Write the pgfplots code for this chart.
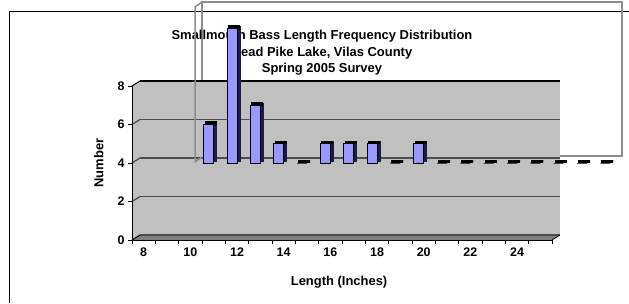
\documentclass[border=0pt]{standalone}
\usepackage{fontspec}
\setmainfont{Liberation Sans}
\usepackage{pgfplots}
\pgfplotsset{compat=1.18}
\usepackage{pgfplotstable}
\definecolor{wallgray}{HTML}{C0C0C0}
\definecolor{floorgray}{HTML}{808080}
\definecolor{gridgray}{HTML}{4D4D4D}
\definecolor{framegray}{HTML}{8C8C8C}
\definecolor{barfill}{HTML}{9999FF}
\definecolor{barside}{HTML}{1A1A4D}

\pgfplotstableread{
x y
11 2
12 7
13 3
14 1
15 0
16 1
17 1
18 1
19 0
20 1
21 0
22 0
23 0
24 0
25 0
26 0
27 0
28 0
}\bars

\newcommand{\tlf}{\fontsize{12.5}{14}\selectfont\bfseries}

\begin{document}
\begin{tikzpicture}[x=1bp,y=1bp]
\useasboundingbox (0,0) rectangle (629,303);
% chart area border
\draw[black, line width=1bp] (9,0) -- (9,291) -- (629,291);
% floating frame (back)
\draw[framegray, line width=1.5bp] (202,222) -- (202,301) -- (622,301) -- (622,147) -- (560,147);
% side wall
\fill[wallgray] (132,217) -- (140,222) -- (140,68) -- (132,63) -- cycle;
% back wall
\begin{axis}[at={(140bp,68bp)}, anchor=south west, scale only axis,
  width=420bp, height=154bp, xmin=7.5, xmax=25.5, ymin=0, ymax=8,
  axis background/.style={fill=wallgray},
  axis line style={draw=none}, xtick=\empty, ytick={0,2,4,6},
  yticklabels={}, major tick length=0pt,
  ymajorgrids, grid style={gridgray, line width=1.3bp}]
\end{axis}
\draw[black, line width=1bp] (140,222) -- (560,222);
% floor
\fill[floorgray] (132,63) -- (140,68) -- (560,68) -- (552,63) -- cycle;
\draw[gridgray, line width=1.3bp] (140,68) -- (560,68);
\draw[black, line width=0.8bp] (552,63) -- (560,68);
% side diagonals
\foreach \v in {2,4,6} {
  \draw[gridgray, line width=1.3bp] (132,63+19.25*\v) -- (140,68+19.25*\v);
}
\draw[black, line width=1bp] (132,217) -- (140,222);
\draw[black, line width=1bp] (132,63) -- (140,68);
% front axis with ticks and labels
\begin{axis}[at={(132bp,63bp)}, anchor=south west, scale only axis,
  width=420bp, height=154bp, xmin=7.5, xmax=25.5, ymin=0, ymax=8,
  axis lines*=left, axis line style={black, line width=1bp},
  tick align=outside, major tick length=4bp, tick style={black, line width=0.8bp},
  xtick={7.5,8.5,...,25.5}, xticklabels={},
  extra x ticks={8,10,...,24},
  extra x tick labels={{\tlf 8},{\tlf 10},{\tlf 12},{\tlf 14},{\tlf 16},{\tlf 18},{\tlf 20},{\tlf 22},{\tlf 24}},
  extra x tick style={major tick length=0pt, tick style={draw=none}},
  ytick={0,2,4,6,8},
  yticklabels={{\tlf 0},{\tlf 2},{\tlf 4},{\tlf 6},{\tlf 8}},
  xticklabel style={yshift=-4bp},
  xlabel={Length (Inches)}, ylabel={Number},
  label style={font=\fontsize{13}{15}\selectfont\bfseries},
  xlabel style={at={(axis description cs:0.493,-0.273)}, anchor=center},
  ylabel style={at={(axis description cs:-0.079,0.5)}, anchor=center}]
\end{axis}
% title
\node[align=center, font=\fontsize{13}{16.5}\selectfont\bfseries] at (322,250)
  {Smallmouth Bass Length Frequency Distribution\\Dead Pike Lake, Vilas County\\Spring 2005 Survey};
% floating frame (front)
\draw[framegray, line width=1.5bp] (195,141) -- (195,296) -- (202,301);
\draw[framegray, line width=1.5bp] (195,141) -- (202,146);
% bar depth
\begin{axis}[at={(130bp,65bp)}, anchor=south west, scale only axis,
  width=420bp, height=154bp, xmin=7.5, xmax=25.5, ymin=-4, ymax=4,
  hide axis, clip=false, ybar, bar width=10bp]
\addplot[fill=barside, draw=barside, line width=1.2bp] table[x=x,y=y]{\bars};
\end{axis}
% bar top faces
\begin{axis}[at={(129bp,64.5bp)}, anchor=south west, scale only axis,
  width=420bp, height=154bp, xmin=7.5, xmax=25.5, ymin=-4, ymax=4,
  hide axis, clip=false]
\addplot[only marks, mark=-, mark size=6bp, black,
  mark options={line width=3.5bp}] table[x=x,y=y]{\bars};
\end{axis}
% bars
\begin{axis}[at={(127bp,63bp)}, anchor=south west, scale only axis,
  width=420bp, height=154bp, xmin=7.5, xmax=25.5, ymin=-4, ymax=4,
  hide axis, clip=false, ybar, bar width=10bp]
\addplot[fill=barfill, draw=black, line width=1bp] table[x=x,y=y]{\bars};
\end{axis}
\end{tikzpicture}
\end{document}
